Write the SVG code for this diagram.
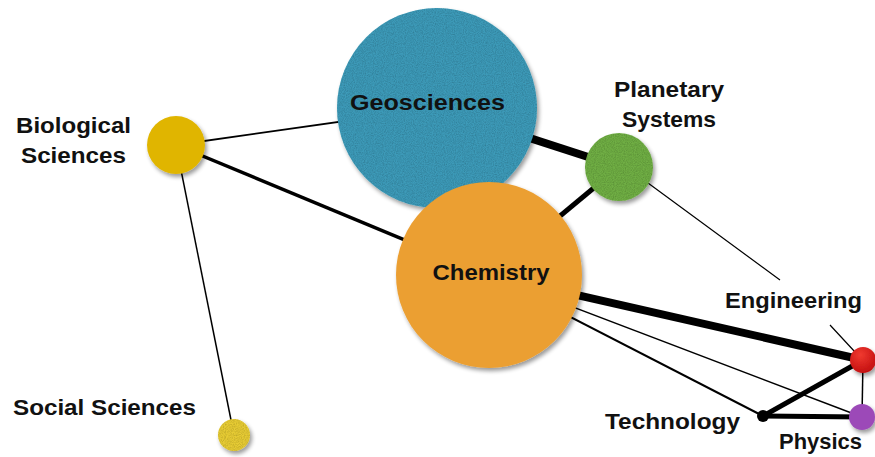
<svg xmlns="http://www.w3.org/2000/svg" width="875" height="457" viewBox="0 0 875 457">
<defs>
<style>
.lbl{font-family:"Liberation Sans",Arial,sans-serif;font-weight:bold;font-size:22px;fill:#111;text-anchor:middle}
.e{stroke:#000;fill:none;stroke-linecap:butt}
</style>
<filter id="sh" x="-20%" y="-20%" width="150%" height="150%">
<feGaussianBlur in="SourceAlpha" stdDeviation="2"/>
<feOffset dx="2" dy="3" result="b"/>
<feComponentTransfer in="b" result="s"><feFuncA type="linear" slope="0.4"/></feComponentTransfer>
<feMerge><feMergeNode in="s"/><feMergeNode in="SourceGraphic"/></feMerge>
</filter>
<filter id="tex" x="-20%" y="-20%" width="150%" height="150%">
<feTurbulence type="fractalNoise" baseFrequency="0.9" numOctaves="2" seed="4" result="noise"/>
<feColorMatrix in="noise" type="matrix" values="0 0 0 0 0  0 0 0 0 0  0 0 0 0 0  0.6 0 0 0 -0.2" result="n"/>
<feComposite in="n" in2="SourceGraphic" operator="in" result="nt"/>
<feGaussianBlur in="SourceAlpha" stdDeviation="2"/>
<feOffset dx="2" dy="3" result="b"/>
<feComponentTransfer in="b" result="s"><feFuncA type="linear" slope="0.4"/></feComponentTransfer>
<feMerge><feMergeNode in="s"/><feMergeNode in="SourceGraphic"/><feMergeNode in="nt"/></feMerge>
</filter>
<radialGradient id="red" cx="0.4" cy="0.3" r="0.7">
<stop offset="0" stop-color="#f03a30"/>
<stop offset="1" stop-color="#c41010"/>
</radialGradient>
</defs>
<rect width="875" height="457" fill="#fff"/>
<g id="connectors">
<line class="e" x1="176" y1="145" x2="437" y2="108" stroke-width="1.8"/>
<line class="e" x1="176" y1="145" x2="489" y2="275" stroke-width="3.5"/>
<line class="e" x1="176" y1="145" x2="234" y2="435" stroke-width="1.5"/>
<line class="e" x1="437" y1="108" x2="619" y2="167" stroke-width="8"/>
<line class="e" x1="489" y1="275" x2="619" y2="167" stroke-width="5"/>
<path class="e" d="M648,183 L780,280 M830,325 L855,352" stroke-width="1.2"/>
<line class="e" x1="489" y1="275" x2="863" y2="360" stroke-width="8"/>
<line class="e" x1="489" y1="275" x2="862" y2="417" stroke-width="1.5"/>
<line class="e" x1="489" y1="275" x2="763" y2="416" stroke-width="2"/>
<line class="e" x1="763" y1="416" x2="863" y2="360" stroke-width="5"/>
<line class="e" x1="763" y1="416" x2="862" y2="417" stroke-width="5"/>
<line class="e" x1="863" y1="360" x2="862" y2="417" stroke-width="1.5"/>
</g>
<g id="geosciences">
<circle cx="437" cy="108" r="100" fill="#3c9ab8" filter="url(#tex)"/>
<text class="lbl" x="427.5" y="110" textLength="155" lengthAdjust="spacingAndGlyphs">Geosciences</text>
</g>
<g id="planetary-systems">
<circle cx="619" cy="167" r="34" fill="#70ae45" filter="url(#tex)"/>
<text class="lbl" x="669" y="97" textLength="110" lengthAdjust="spacingAndGlyphs">Planetary</text>
<text class="lbl" x="669" y="127" textLength="94" lengthAdjust="spacingAndGlyphs">Systems</text>
</g>
<g id="chemistry">
<circle cx="489" cy="275" r="93" fill="#eb9f32" filter="url(#sh)"/>
<text class="lbl" x="491" y="280" textLength="117" lengthAdjust="spacingAndGlyphs">Chemistry</text>
</g>
<g id="biological-sciences">
<circle cx="176" cy="145" r="29" fill="#e0b500" filter="url(#sh)"/>
<text class="lbl" x="73.5" y="133" textLength="115" lengthAdjust="spacingAndGlyphs">Biological</text>
<text class="lbl" x="73.5" y="163" textLength="105" lengthAdjust="spacingAndGlyphs">Sciences</text>
</g>
<g id="social-sciences">
<circle cx="234" cy="435" r="16" fill="#e6cb34" filter="url(#tex)"/>
<text class="lbl" x="104.5" y="415" textLength="183" lengthAdjust="spacingAndGlyphs">Social Sciences</text>
</g>
<g id="engineering">
<circle cx="863" cy="360" r="13" fill="url(#red)" filter="url(#sh)"/>
<text class="lbl" x="793.5" y="308" textLength="137" lengthAdjust="spacingAndGlyphs">Engineering</text>
</g>
<g id="physics">
<circle cx="862" cy="417" r="13" fill="#9c4ab8" filter="url(#sh)"/>
<text class="lbl" x="820.5" y="449" textLength="83" lengthAdjust="spacingAndGlyphs">Physics</text>
</g>
<g id="technology">
<circle cx="763" cy="416" r="6" fill="#000"/>
<text class="lbl" x="672.5" y="429" textLength="135" lengthAdjust="spacingAndGlyphs">Technology</text>
</g>
</svg>
